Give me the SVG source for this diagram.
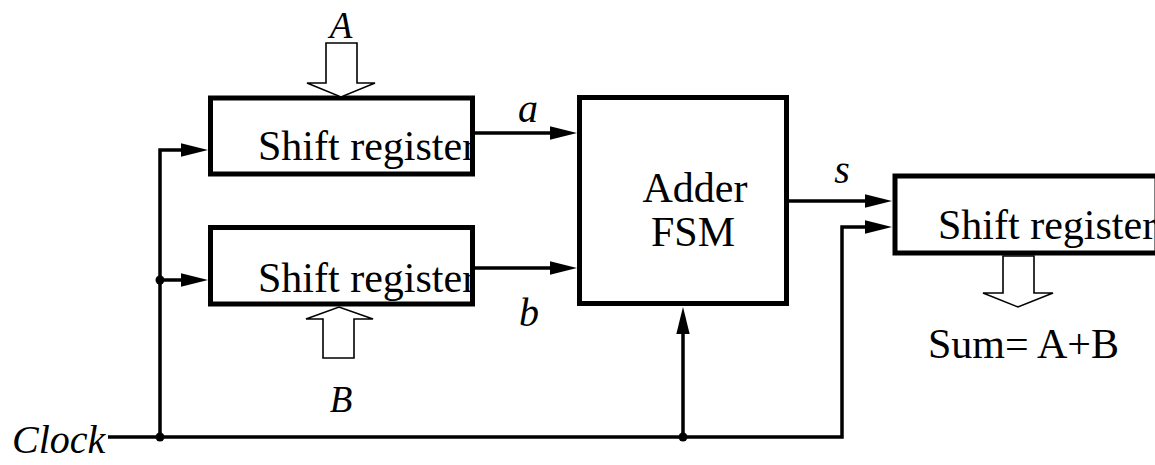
<svg xmlns="http://www.w3.org/2000/svg" width="1155" height="465" viewBox="0 0 1155 465">
  <style>
    .box { fill: #fff; stroke: #000; stroke-width: 5; }
    .wire { fill: none; stroke: #000; stroke-width: 3.5; }
    .bus { fill: #fff; stroke: #000; stroke-width: 1.6; stroke-linejoin: miter; }
    .lbl { font-family: "Liberation Serif", "Times New Roman", serif; font-size: 42px; fill: #000; }
    .ital { font-family: "Liberation Serif", "Times New Roman", serif; font-style: italic; fill: #000; }
    .dot { fill: #000; }
  </style>
  <defs>
    <marker id="arr" viewBox="0 0 27 15" refX="19" refY="7.5" markerWidth="27" markerHeight="15" markerUnits="userSpaceOnUse" orient="auto">
      <path d="M0,0.8 L27,7.5 L0,14.2 Z" fill="#000"/>
    </marker>
    <clipPath id="clipA"><rect x="213" y="100" width="257" height="72"/></clipPath>
    <clipPath id="clipB"><rect x="213" y="230" width="257" height="72"/></clipPath>
  </defs>

  <rect width="1155" height="465" fill="#fff"/>

  <g id="connectors">
    <path class="wire" d="M108,437 H842 V227 H884" marker-end="url(#arr)"/>
    <path class="wire" d="M160,437 V150 H200" marker-end="url(#arr)"/>
    <path class="wire" d="M160,280 H200" marker-end="url(#arr)"/>
    <path class="wire" d="M683,437 V315" marker-end="url(#arr)"/>
    <path class="wire" d="M475,133 H569" marker-end="url(#arr)"/>
    <path class="wire" d="M475,268 H569" marker-end="url(#arr)"/>
    <path class="wire" d="M789,201 H884" marker-end="url(#arr)"/>
    <circle class="dot" cx="160" cy="437" r="4.5"/>
    <circle class="dot" cx="160" cy="280" r="4.5"/>
    <circle class="dot" cx="683" cy="437" r="4.5"/>
  </g>

  <g id="shiftA">
    <rect class="box" x="210.5" y="98" width="262" height="76"/>
    <text class="lbl" x="258" y="160" clip-path="url(#clipA)">Shift register</text>
  </g>

  <g id="shiftB">
    <rect class="box" x="210.5" y="227.5" width="262" height="76.5"/>
    <text class="lbl" x="258" y="292" clip-path="url(#clipB)">Shift register</text>
  </g>

  <g id="adder">
    <rect class="box" x="579.5" y="97.5" width="207" height="206"/>
    <text class="lbl" x="695" y="202" font-size="40" text-anchor="middle">Adder</text>
    <text class="lbl" x="693" y="246" font-size="40" text-anchor="middle">FSM</text>
  </g>

  <g id="shiftSum">
    <rect class="box" x="895" y="176" width="262" height="77"/>
    <text class="lbl" x="938" y="239">Shift register</text>
  </g>

  <g id="inputA">
    <polygon class="bus" points="326,43 357,43 357,83 375,83 341,97 307,83 326,83"/>
    <text class="ital" x="341" y="38" font-size="37" text-anchor="middle">A</text>
  </g>

  <g id="inputB">
    <polygon class="bus" points="323,358 354,358 354,319 373,319 339,307 306,319 323,319"/>
    <text class="ital" x="341" y="412" font-size="37" text-anchor="middle">B</text>
  </g>

  <g id="outputSum">
    <polygon class="bus" points="1003,256 1034,256 1034,293 1053,293 1018,307 983,293 1003,293"/>
    <text class="lbl" x="928" y="358">Sum= A+B</text>
  </g>

  <g id="labels">
    <text class="ital" x="528" y="122" font-size="40" text-anchor="middle">a</text>
    <text class="ital" x="529" y="326" font-size="40" text-anchor="middle">b</text>
    <text class="ital" x="842" y="183" font-size="40" text-anchor="middle">s</text>
    <text class="ital" x="12" y="453" font-size="40">Clock</text>
  </g>
</svg>
